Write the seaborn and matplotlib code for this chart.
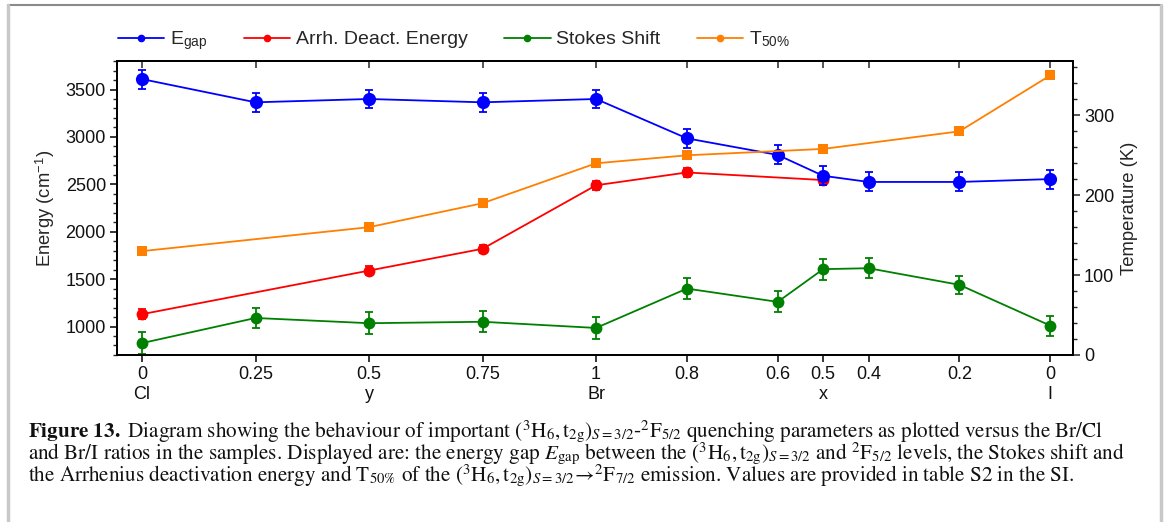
import numpy as np
import pandas as pd
import matplotlib
matplotlib.use("Agg")
import matplotlib.pyplot as plt
from matplotlib.lines import Line2D
from matplotlib.ticker import MultipleLocator
import seaborn as sns

# composition: Cl -> Br (y), then Br -> I (x)
y_comp = [0, 0.25, 0.5, 0.75, 1]
x_comp = [0.8, 0.6, 0.5, 0.4, 0.2, 0]
tick_text = ["0\nCl", "0.25", "0.5\ny", "0.75", "1\nBr",
             "0.8", "0.6", "0.5\nx", "0.4", "0.2", "0\nI"]

nan = np.nan
e_gap = [3610, 3365, 3400, 3365, 3400, 2985, 2810, 2590, 2525, 2525, 2555]
e_gap_err = [100, 100, 100, 100, 100, 100, 100, 100, 100, 100, 100]
arrh = [1130, nan, 1590, 1820, 2490, 2625, nan, 2545, nan, nan, nan]
arrh_err = [50, nan, 45, 45, 50, 45, nan, 50, nan, nan, nan]
stokes = [825, 1090, 1035, 1050, 985, 1400, 1260, 1605, 1615, 1440, 1010]
stokes_err = [115, 110, 115, 110, 115, 110, 110, 110, 105, 95, 105]
t50 = [130, nan, 160, 190, 240, 250, nan, 258, nan, 280, 350]
t50_err = [5, nan, 4, 4, 4, 4, nan, 4, nan, 4, 5]

pos = y_comp + [2 - v for v in x_comp]

df = pd.DataFrame({"pos": pos, "egap": e_gap, "egap_err": e_gap_err,
                   "arrh": arrh, "arrh_err": arrh_err,
                   "stokes": stokes, "stokes_err": stokes_err,
                   "t50": t50, "t50_err": t50_err})

sns.set_style("ticks")
plt.rcParams["font.family"] = ["Liberation Sans", "DejaVu Sans"]
plt.rcParams["mathtext.fontset"] = "stix"

fig = plt.figure(figsize=(11.7, 5.22), dpi=100)
ax = fig.add_axes([0.1, 0.32, 0.817, 0.563])
ax2 = ax.twinx()

blue, red, green, orange = "#0000ff", "#ff0000", "#008000", "#ff7f00"

def draw(axis, col, color, marker, ms):
    d = df.dropna(subset=[col])
    sns.lineplot(data=d, x="pos", y=col, ax=axis, color=color, marker=marker,
                 markersize=ms, markeredgewidth=0, linewidth=1.3, legend=False)
    axis.errorbar(d["pos"], d[col], yerr=d[col + "_err"], fmt="none",
                  ecolor=color, elinewidth=1.3, capsize=3, capthick=1.3)

draw(ax, "stokes", green, "o", 8.5)
draw(ax, "arrh", red, "o", 8.5)
draw(ax, "egap", blue, "o", 9.5)
draw(ax2, "t50", orange, "s", 7)

ax.set_xlim(-0.055, 2.05)
ax.set_ylim(700, 3800)
ax2.set_ylim(0, 368)

ax.set_xticks(pos)
ax.set_xticklabels(tick_text)
ax.set_xlabel("")
ax.set_ylabel("Energy (cm$^{\\mathregular{-1}}$)", fontsize=13.3, labelpad=6)
ax2.set_ylabel("Temperature (K)", fontsize=13.3, labelpad=5)
ax.yaxis.set_major_locator(MultipleLocator(500))
ax.yaxis.set_minor_locator(MultipleLocator(100))
ax2.yaxis.set_major_locator(MultipleLocator(100))
ax2.yaxis.set_minor_locator(MultipleLocator(20))

ax.tick_params(axis="both", which="major", labelsize=13, direction="out",
               length=5, width=1.1, color="black", labelcolor="#111111", pad=3)
ax.tick_params(axis="y", which="minor", direction="out", length=3, width=1)
ax2.tick_params(axis="y", which="major", labelsize=13, direction="out",
                length=5, width=1.1, labelcolor="#111111", pad=3)
ax2.tick_params(axis="y", which="minor", direction="out", length=3, width=1)
ax2.set_xlabel("")

top = ax.secondary_xaxis("top")
top.set_xticks(pos)
top.tick_params(direction="in", length=5, width=1.1, labeltop=False)

for a in (ax, ax2):
    for s in a.spines.values():
        s.set_linewidth(1.3)
        s.set_color("black")
        s.set_visible(True)
top.spines["top"].set_linewidth(1.3)

handles = [Line2D([], [], color=c, marker="o", markersize=4.5, linewidth=1.3)
           for c in (blue, red, green, orange)]
labels = ["E$_{\\mathregular{gap}}$", "Arrh. Deact. Energy", "Stokes Shift",
          "T$_{\\mathregular{50\\%}}$"]
fig.legend(handles, labels, loc="center left", bbox_to_anchor=(0.0855, 0.922),
           ncol=4, frameon=False, fontsize=14, handlelength=2.4,
           columnspacing=1.85, handletextpad=0.3)

# caption
cap = [
    r"$\mathbf{Figure\ 13.}$ Diagram showing the behaviour of important $(^3\mathrm{H}_6,\mathrm{t}_{2\mathrm{g}})_{S=3/2}$-$^2\mathrm{F}_{5/2}$ quenching parameters as plotted versus the Br/Cl",
    r"and Br/I ratios in the samples. Displayed are: the energy gap $E_{\mathrm{gap}}$ between the $(^3\mathrm{H}_6,\mathrm{t}_{2\mathrm{g}})_{S=3/2}$ and $^2\mathrm{F}_{5/2}$ levels, the Stokes shift and",
    r"the Arrhenius deactivation energy and T$_{50\%}$ of the $(^3\mathrm{H}_6,\mathrm{t}_{2\mathrm{g}})_{S=3/2}\!\rightarrow\!^2\mathrm{F}_{7/2}$ emission. Values are provided in table S2 in the SI.",
]
for i, line in enumerate(cap):
    fig.text(28 / 1170, 1 - (437 + 22 * i) / 522, line, family="STIXGeneral",
             fontsize=15.2, va="baseline", ha="left", color="#111111")

# page frame
fig.add_artist(Line2D([8 / 1170, 1161 / 1170], [1 - 4.5 / 522] * 2,
                      transform=fig.transFigure, color="#8a8a8a", lw=1.5))
fig.add_artist(Line2D([8 / 1170] * 2, [0, 1 - 4.5 / 522],
                      transform=fig.transFigure, color="#c8c8c8", lw=2.5))
fig.add_artist(Line2D([1161 / 1170] * 2, [0, 1 - 4.5 / 522],
                      transform=fig.transFigure, color="#c8c8c8", lw=2.5))

fig.savefig("out.png", dpi=100)
plt.close(fig)
